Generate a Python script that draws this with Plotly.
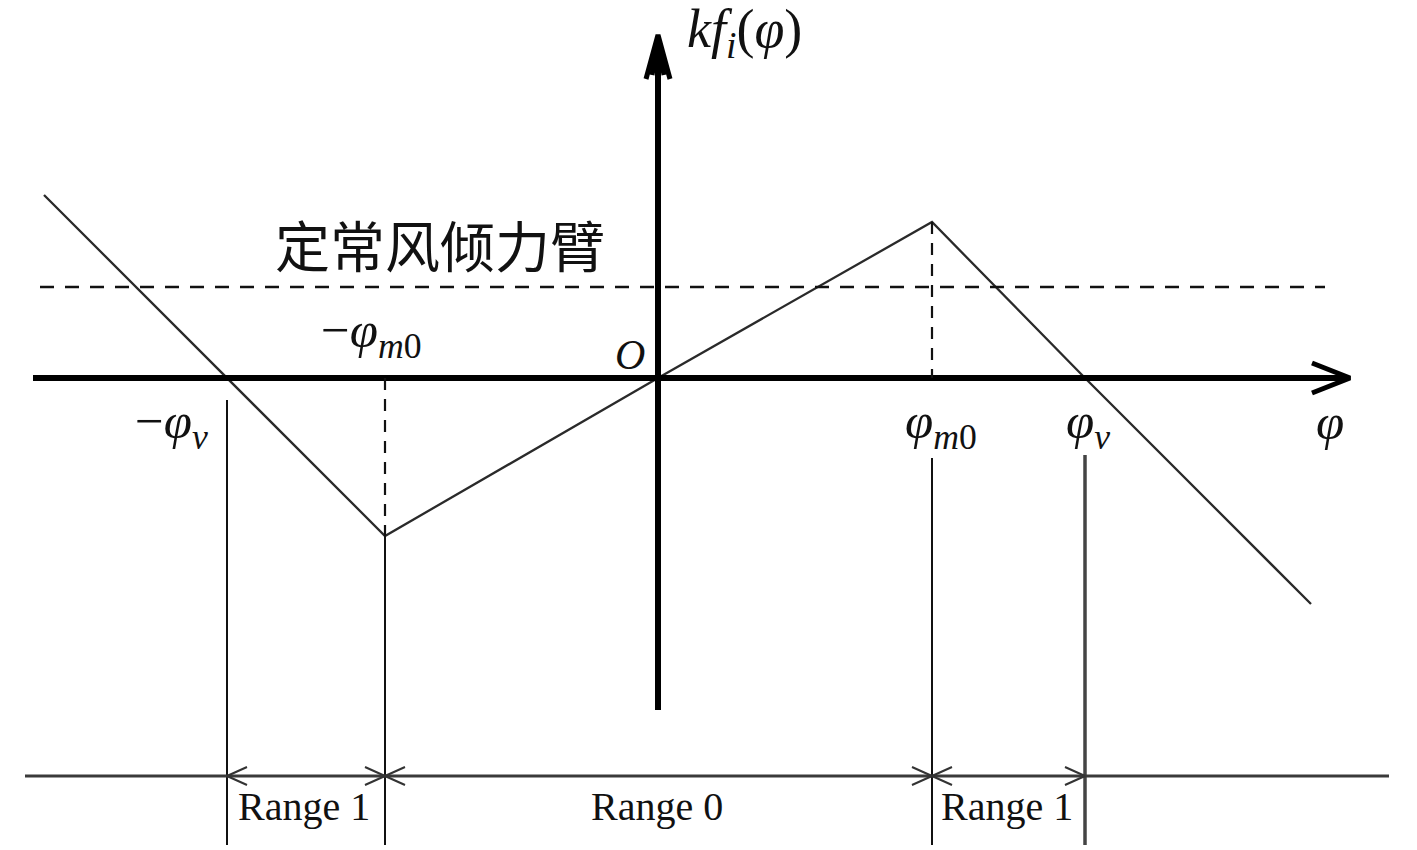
import plotly.graph_objects as go

# ---- data (diagram units: 1 unit ~ 1 px, origin at O) ----
curve_x = [-614, -431, -273, 0, 274, 427, 653]
curve_y = [183, 0, -158, 0, 156, 0, -226]

wind_arm_y = 91
wind_arm_x = [-618, 667]

phi_v_left, phi_m0_left, phi_m0_right, phi_v_right = -431, -273, 274, 427
peak_y, trough_y = 156, -158

x_axis = [-625, 690]
y_axis = [-332, 341]
dim_line_y = -398
dim_line_x = [-633, 731]
dim_bottom = -467

range_labels = ["Range 1", "Range 0", "Range 1"]
range_edges = [phi_v_left, phi_m0_left, phi_m0_right, phi_v_right]

SERIF = "Liberation Serif, Times New Roman, serif"
CJK = "Noto Sans CJK SC"

fig = go.Figure()

def line(xs, ys, width=2, color="#222", dash="solid"):
    fig.add_trace(go.Scatter(x=xs, y=ys, mode="lines", hoverinfo="skip",
                             line=dict(color=color, width=width, dash=dash),
                             showlegend=False))

# main curve
line(curve_x, curve_y, width=2.3, color="#2a2a2a")
# steady wind heeling arm (dashed)
line(wind_arm_x, [wind_arm_y, wind_arm_y], width=2.5, color="#111", dash="14px,11px")

# axes
line(x_axis, [0, 0], width=6, color="#000")
line([0, 0], y_axis, width=6, color="#000")

# axis arrowheads
xt = x_axis[1] + 2
line([xt - 38, xt, xt - 38], [15, 0, -15], width=5, color="#000")
yt = y_axis[1] + 2
line([-12, 0, 12], [yt - 44, yt, yt - 44], width=5, color="#000")
line([-6, 0, 6], [yt - 40, yt - 4, yt - 40], width=5, color="#000")

# dashed verticals to extrema
line([phi_m0_left, phi_m0_left], [0, trough_y], width=2.2, color="#111", dash="12px,9px")
line([phi_m0_right, phi_m0_right], [peak_y, 0], width=2.2, color="#111", dash="12px,9px")

# solid verticals down to dimension line
line([phi_v_left, phi_v_left], [-22, dim_bottom], width=2, color="#111")
line([phi_m0_left, phi_m0_left], [trough_y, dim_bottom], width=2, color="#111")
line([phi_m0_right, phi_m0_right], [-80, dim_bottom], width=2, color="#111")
line([phi_v_right, phi_v_right], [-77, dim_bottom], width=3.5, color="#444")

# dimension line
line(dim_line_x, [dim_line_y, dim_line_y], width=3, color="#3a3a3a")

# dimension arrowheads (open chevrons)
def chevron(tip, direction):
    # direction: +1 points right, -1 points left
    line([tip - direction * 20, tip, tip - direction * 20],
         [dim_line_y + 9, dim_line_y, dim_line_y - 9], width=2, color="#333")

for i in range(len(range_labels)):
    a, b = range_edges[i], range_edges[i + 1]
    chevron(a, -1)
    chevron(b, +1)

# ---- text ----
ann = []
def text(x, y, s, size, family=SERIF, xanchor="center", yanchor="middle"):
    ann.append(dict(x=x, y=y, xref="x", yref="y", text=s, showarrow=False,
                    font=dict(family=family, size=size, color="#111"),
                    xanchor=xanchor, yanchor=yanchor))

text(86, 346, "<i>kf</i><sub><i>i</i></sub>(<i>φ</i>)", 54)
text(-218, 135, "定常风倾力臂", 55, family=CJK)
text(phi_m0_left - 14, 44, "−<i>φ</i><sub><i>m</i>0</sub>", 51)
text(phi_v_left - 56, -47, "−<i>φ</i><sub><i>v</i></sub>", 51)
text(-28, 23, "<i>O</i>", 42)
text(phi_m0_right + 9, -47, "<i>φ</i><sub><i>m</i>0</sub>", 51)
text(phi_v_right + 3, -47, "<i>φ</i><sub><i>v</i></sub>", 51)
text(672, -44, "<i>φ</i>", 51)

for i, lab in enumerate(range_labels):
    cx = (range_edges[i] + range_edges[i + 1]) / 2
    text(cx - 2, -428, lab, 40)

fig.update_layout(
    width=1417, height=850,
    margin=dict(l=0, r=0, t=0, b=0),
    paper_bgcolor="white", plot_bgcolor="white",
    xaxis=dict(range=[-658, 759], visible=False, fixedrange=True),
    yaxis=dict(range=[-472, 378], visible=False, fixedrange=True),
    annotations=ann,
    showlegend=False,
)

fig.write_html("out.html", post_script="document.body.style.margin='0';",
               config={"displayModeBar": False})
